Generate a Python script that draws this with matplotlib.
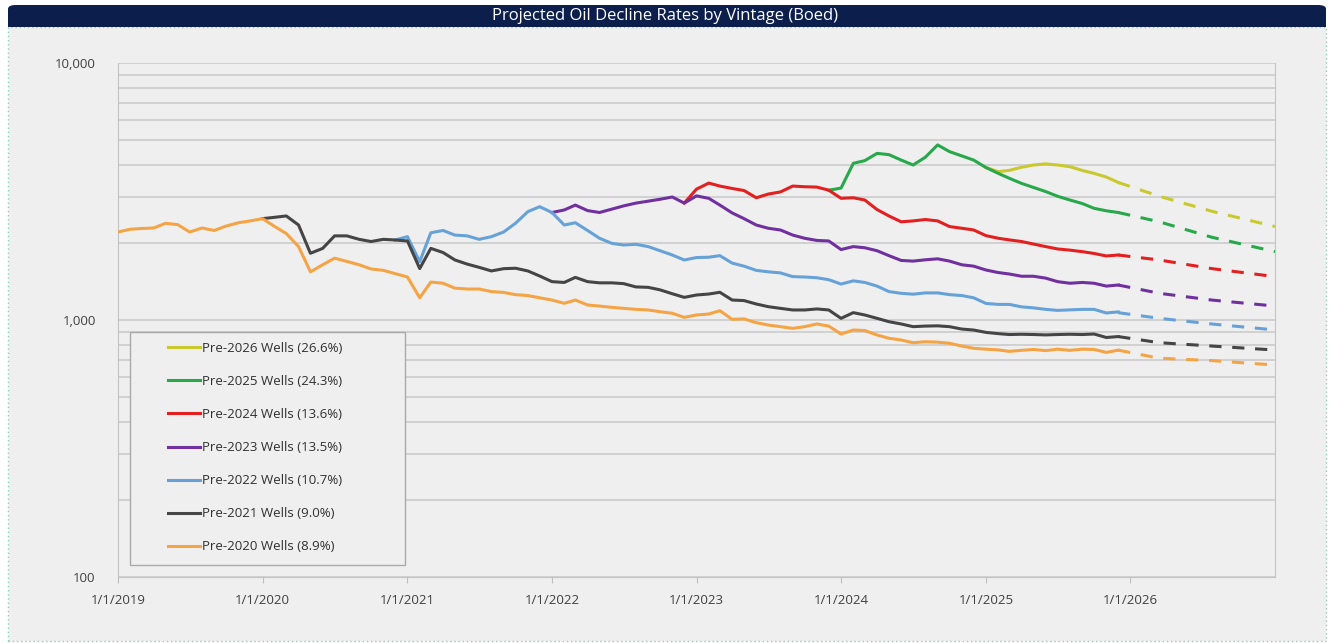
import matplotlib
matplotlib.use('Agg')
import matplotlib.pyplot as plt
import matplotlib.dates as mdates
from matplotlib.patches import Rectangle, FancyBboxPatch
from matplotlib.ticker import FuncFormatter, LogLocator, NullFormatter
import pandas as pd

plt.rcParams['font.family'] = ['Open Sans', 'DejaVu Sans']

# vintages, top of legend first
labels = ['Pre-2026 Wells (26.6%)', 'Pre-2025 Wells (24.3%)', 'Pre-2024 Wells (13.6%)',
          'Pre-2023 Wells (13.5%)', 'Pre-2022 Wells (10.7%)', 'Pre-2021 Wells (9.0%)',
          'Pre-2020 Wells (8.9%)']
colors = ['#c9c92e', '#27a84a', '#e3201f', '#7030a0', '#66a2d8', '#454545', '#f5a445']
start_months = ['2025-01', '2023-12', '2022-12', '2022-01', '2020-12', '2020-01', '2019-01']

# monthly history (boed)
pre2026 = [3920, 3780, 3820, 3930, 4010, 4050, 4010, 3950, 3820, 3720, 3600, 3430]
pre2025 = [3200,
           3260, 4070, 4170, 4450, 4400, 4190, 4010, 4300, 4800, 4520, 4350, 4190,
           3920, 3720, 3560, 3400, 3280, 3160, 3030, 2930, 2840, 2720, 2660, 2620]
pre2024 = [2850,
           3230, 3410, 3320, 3250, 3190, 2990, 3090, 3150, 3320, 3300, 3290, 3200,
           2975, 2990, 2930, 2690, 2540, 2410, 2430, 2460, 2430, 2310, 2275, 2240,
           2130, 2080, 2050, 2020, 1975, 1930, 1890, 1870, 1845, 1815, 1775, 1790]
pre2023 = [2620, 2680, 2800, 2665, 2620, 2700, 2780, 2850, 2900, 2950, 3010, 2850,
           3040, 2975, 2800, 2610, 2480, 2342, 2275, 2240, 2140, 2080, 2040, 2030,
           1880, 1930, 1910, 1860, 1780, 1705, 1695, 1715, 1730, 1695, 1640, 1620,
           1565, 1530, 1510, 1480, 1480, 1455, 1410, 1390, 1400, 1390, 1355, 1368]
pre2022 = [2048,
           2110, 1686, 2185, 2230, 2140, 2125, 2060, 2110, 2200, 2380, 2640, 2760,
           2620, 2342, 2390, 2230, 2080, 1987, 1958, 1970, 1930, 1860, 1790, 1712,
           1750, 1755, 1780, 1665, 1620, 1560, 1540, 1525, 1475, 1470, 1460, 1435,
           1380, 1420, 1400, 1355, 1290, 1270, 1260, 1275, 1275, 1255, 1245, 1220,
           1160, 1150, 1150, 1125, 1115, 1100, 1090, 1095, 1100, 1100, 1065, 1075]
pre2021 = [2480, 2510, 2540, 2342, 1818, 1900, 2125, 2125, 2060, 2020, 2060, 2048,
           2030, 1585, 1900, 1830, 1712, 1650, 1603, 1552, 1584, 1590, 1552, 1483,
           1410, 1400, 1465, 1410, 1395, 1395, 1385, 1345, 1340, 1310, 1265, 1225,
           1251, 1262, 1282, 1196, 1190, 1154, 1127, 1110, 1094, 1094, 1104, 1094,
           1015, 1068, 1046, 1015, 985, 965, 942, 947, 949, 942, 922, 914,
           895, 885, 878, 880, 878, 875, 878, 880, 878, 882, 855, 862]
pre2020 = [2200, 2255, 2270, 2280, 2378, 2350, 2200, 2280, 2230, 2320, 2390, 2430,
           2480, 2310, 2170, 1930, 1540, 1640, 1740, 1690, 1640, 1580, 1560, 1515,
           1470, 1220, 1405, 1390, 1330, 1320, 1320, 1290, 1280, 1255, 1245, 1220,
           1196, 1161, 1196, 1144, 1133, 1120, 1110, 1100, 1094, 1077, 1062, 1024,
           1046, 1055, 1087, 1006, 1010, 976, 956, 942, 928, 942, 965, 947,
           882, 914, 910, 874, 849, 836, 816, 823, 820, 812, 792, 776,
           770, 765, 755, 762, 768, 760, 770, 762, 770, 768, 748, 763]
history = [pre2026, pre2025, pre2024, pre2023, pre2022, pre2021, pre2020]

# projections (dashed)
proj_dates = ['2025-12-01', '2026-03-15', '2026-07-25', '2027-01-01']
proj = [[3430, 3030, 2650, 2310],
        [2620, 2410, 2100, 1845],
        [1790, 1712, 1585, 1475],
        [1368, 1270, 1196, 1133],
        [1068, 1015, 965, 915],
        [862, 816, 792, 764],
        [763, 710, 695, 668]]

year_ticks = ['2019', '2020', '2021', '2022', '2023', '2024', '2025', '2026']

W, H = 1331, 643
fig = plt.figure(figsize=(W / 100, H / 100), dpi=100, facecolor='white')

# panel + title bar
fig.patches.append(Rectangle((8 / W, 2 / H), 1318 / W, 614 / H, transform=fig.transFigure,
                             fc='#efefef', ec='#8fcfb8', lw=1.0, ls=(0, (1, 2)), zorder=-5))
fig.patches.append(FancyBboxPatch((8 / W, 1 - 27 / H), 1318 / W, 22 / H, transform=fig.transFigure,
                                  boxstyle='round,pad=0,rounding_size=0.006',
                                  fc='#0c1f4c', ec='none', zorder=-4))
fig.patches.append(Rectangle((8 / W, 1 - 27 / H), 1318 / W, 10 / H, transform=fig.transFigure,
                             fc='#0c1f4c', ec='none', zorder=-4))
fig.text(0.5, 1 - 16 / H, 'Projected Oil Decline Rates by Vintage (Boed)', color='white',
         fontsize=12, ha='center', va='center')

ax = fig.add_axes([118 / W, 1 - 577 / H, 1157 / W, 514 / H])
ax.set_facecolor('none')

for vals, start, p, c, lab in zip(history, start_months, proj, colors, labels):
    d = pd.date_range(start, periods=len(vals), freq='MS')
    ax.plot(d, vals, color=c, lw=2.2, label=lab, solid_joinstyle='round', zorder=3)
    ax.plot(pd.to_datetime(proj_dates), p, color=c, lw=2.2, ls=(0, (4, 3.5)), zorder=3)

ax.set_yscale('log')
ax.set_ylim(100, 10000)
ax.set_xlim(pd.Timestamp('2019-01-01'), pd.Timestamp('2027-01-01'))
ax.yaxis.set_major_locator(LogLocator(base=10))
ax.yaxis.set_minor_locator(LogLocator(base=10, subs=range(2, 10)))
ax.yaxis.set_major_formatter(FuncFormatter(lambda v, _: f'{v:,.0f}'))
ax.yaxis.set_minor_formatter(NullFormatter())
ax.grid(True, which='both', axis='y', color='#c9c9c9', lw=1.1)
ax.set_xticks(pd.to_datetime([y + '-01-01' for y in year_ticks]))
ax.xaxis.set_major_formatter(mdates.DateFormatter('1/1/%Y'))
ax.tick_params(axis='y', which='both', length=0, labelsize=9.5, labelcolor='#404040', pad=16)
ax.tick_params(axis='x', length=4, color='#bfbfbf', labelsize=9.5, labelcolor='#404040', pad=8)
for s in ['left', 'bottom', 'right']:
    ax.spines[s].set_color('#c4c4c4')
ax.spines['top'].set_visible(False)

# legend box
fig.patches.append(Rectangle((130 / W, 1 - 565 / H), 275 / W, 233 / H, transform=fig.transFigure,
                             fc='#efefef', ec='#a9a9a9', lw=1.0, zorder=4))
leg = fig.legend(loc='upper left', bbox_to_anchor=(168 / W, 1 - 342 / H), frameon=False,
                 fontsize=9.5, handlelength=2.4, handletextpad=0.15, labelspacing=1.52,
                 borderpad=0, borderaxespad=0)
leg.set_zorder(5)
for t in leg.get_texts():
    t.set_color('#303030')

fig.savefig('out.png', dpi=100, facecolor='white')
